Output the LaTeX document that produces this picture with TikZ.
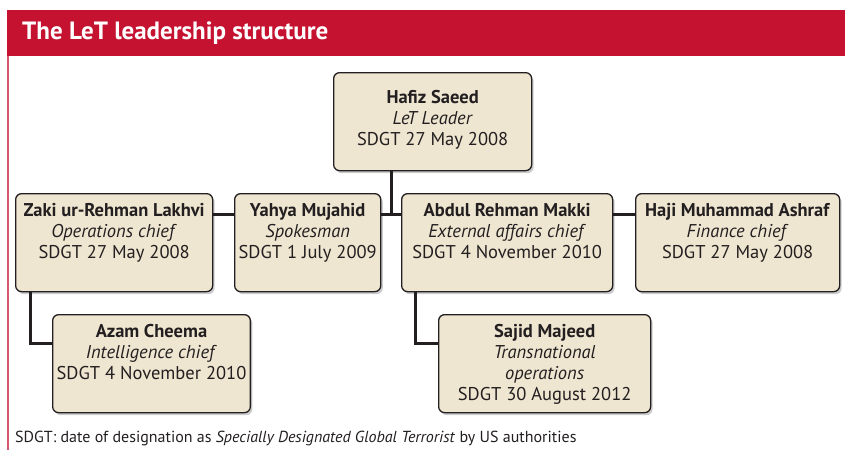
\documentclass[tikz,border=0pt]{standalone}
\usepackage{fontspec}
\setmainfont{PT Sans}
\usetikzlibrary{positioning,calc,shadows}
\definecolor{headred}{HTML}{C41230}
\definecolor{edgered}{HTML}{D45A72}
\definecolor{boxfill}{HTML}{EEE6D1}
\definecolor{ink}{HTML}{231F20}
\newcommand{\card}[1]{\begin{tabular}[t]{@{}c@{}}#1\end{tabular}}
\begin{document}
\begin{tikzpicture}[x=1pt, y=-1pt,
  every node/.style = {inner sep=0pt, text=ink},
  person/.style = {shape=rectangle, rounded corners=6pt,
    draw=ink, line width=1.3pt, fill=boxfill,
    anchor=north west, inner xsep=4pt, inner ysep=0pt,
    text height=23pt, text depth=75pt,
    font=\fontsize{18.5}{21}\selectfont,
    drop shadow={shadow xshift=2pt, shadow yshift=-2.5pt, opacity=0.4}},
  link/.style = {draw=ink, line width=3pt}
  ]
  \useasboundingbox (0,0) rectangle (845,450);
  \fill[headred] (7,10) rectangle (845,56);
  \draw[edgered, line width=1.8pt] (8,56) -- (8,450);
  \node[anchor=west, text=white, font=\fontsize{25}{28}\selectfont\bfseries]
    (title) at (22,33) {The LeT leadership structure};

  \node[person, minimum width=198pt, text height=31pt, text depth=67pt] (hafiz) at (333,72)
    {\card{\textbf{Hafiz Saeed}\\\textit{LeT Leader}\\SDGT 27 May 2008}};
  \node[person, minimum width=197pt] (zaki) at (15,193)
    {\card{\textbf{Zaki ur-Rehman Lakhvi}\\\textit{Operations chief}\\SDGT 27 May 2008}};
  \node[person, minimum width=144pt] (yahya) at (234,193)
    {\card{\textbf{Yahya Mujahid}\\\textit{Spokesman}\\SDGT 1 July 2009}};
  \node[person, minimum width=211pt] (makki) at (401,193)
    {\card{\textbf{Abdul Rehman Makki}\\\textit{External affairs chief}\\SDGT 4 November 2010}};
  \node[person, minimum width=204pt] (ashraf) at (635,193)
    {\card{\textbf{Haji Muhammad Ashraf}\\\textit{Finance chief}\\SDGT 27 May 2008}};
  \node[person, minimum width=197pt] (azam) at (52,314)
    {\card{\textbf{Azam Cheema}\\\textit{Intelligence chief}\\SDGT 4 November 2010}};
  \node[person, minimum width=212pt] (sajid) at (438,314)
    {\card{\textbf{Sajid Majeed}\\\textit{Transnational}\\\textit{operations}\\SDGT 30 August 2012}};

  \coordinate (hub) at ($([yshift=2pt]yahya.base east)!0.5!([yshift=2pt]makki.base west)$);
  \draw[link] (hafiz.south -| hub) -- (hub);
  \draw[link] ([yshift=2pt]zaki.base east) -- ([yshift=2pt]yahya.base west);
  \draw[link] ([yshift=2pt]yahya.base east) -- ([yshift=2pt]makki.base west);
  \draw[link] ([yshift=2pt]makki.base east) -- ([yshift=2pt]ashraf.base west);
  \draw[link] ([xshift=15pt]zaki.south west) |- ([yshift=-6pt]azam.base west);
  \draw[link] ([xshift=14pt]makki.south west) |- ([yshift=-6pt]sajid.base west);

  \node[anchor=west, font=\fontsize{16}{18}\selectfont] (note) at (15,438)
    {SDGT: date of designation as \textit{Specially Designated Global Terrorist} by US authorities};
\end{tikzpicture}
\end{document}
